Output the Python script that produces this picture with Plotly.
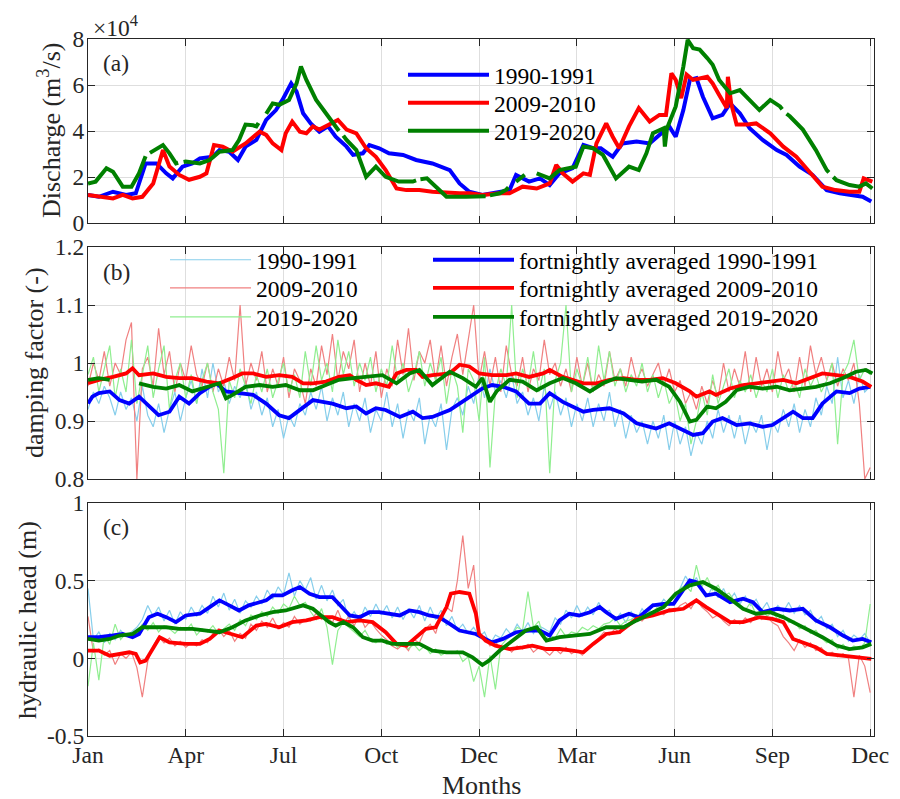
import plotly.graph_objects as go

# ---------------- data ----------------
MONTH_TICKS = [0, 90, 180, 270, 360, 450, 540, 630, 720]
MONTH_LABELS = ["Jan", "Apr", "Jul", "Oct", "Dec", "Mar", "Jun", "Sep", "Dec"]
SERIES_NAMES = ["1990-1991", "2009-2010", "2019-2020"]

# (a) discharge, units of 1e4 m3/s
Q_BLUE_DAY = [0,10,23,35,44,53,63,72,78,87,96,103,115,121,130,138,145,155,164,173,179,187,192,198,205,
              213,221,228,238,244,253,259,268,277,290,302,317,333,342,351,363,379,388,394,406,416,425,434,446,456,
              465,472,483,492,505,517,526,535,541,548,554,560,566,575,584,591,600,609,621,634,643,655,667,680,692,
              701,713,721]
Q_BLUE = [1.22,1.14,1.36,1.22,1.29,2.59,2.59,2.16,1.94,2.45,2.59,2.81,2.88,3.17,3.10,2.74,3.32,3.61,4.48,4.91,
          5.35,6.07,5.71,4.77,4.33,3.97,4.20,3.75,3.32,2.96,3.03,3.39,3.25,3.03,2.96,2.74,2.59,2.30,1.72,1.36,
          1.22,1.36,1.43,2.09,1.80,1.94,1.65,2.16,2.38,3.39,3.25,3.25,2.88,3.46,3.54,3.46,3.83,4.20,3.75,4.91,
          6.22,6.30,5.49,4.55,4.70,5.20,4.77,4.12,3.61,3.17,2.96,2.45,2.09,1.43,1.29,1.22,1.14,0.93]

Q_RED_DAY = [0,10,23,32,41,50,60,69,75,84,93,103,109,116,124,133,145,158,164,170,178,182,188,195,201,
             207,213,222,230,238,247,256,265,274,284,293,305,317,333,342,351,363,379,388,400,
             413,425,431,437,446,456,462,468,477,483,489,498,507,517,526,532,537,541,546,551,
             557,570,575,581,588,589,592,597,607,615,628,640,652,664,676,688,701,710,714,722]
Q_RED = [1.22,1.14,1.07,1.22,1.07,1.14,1.72,3.17,2.45,2.09,1.88,2.01,2.16,3.39,3.32,3.10,3.46,3.97,3.83,3.46,
         3.17,3.90,4.41,3.97,3.90,4.20,4.06,4.28,4.48,4.06,3.90,3.25,2.88,2.30,1.50,1.43,1.43,1.36,1.29,1.29,
         1.29,1.22,1.29,1.29,1.58,1.50,1.72,2.52,2.16,1.80,2.16,2.09,3.46,4.33,3.75,3.25,4.20,5.00,4.41,4.70,
         4.70,6.51,6.22,5.43,6.45,6.22,6.36,6.07,5.57,5.00,6.36,5.20,4.28,4.28,4.33,3.90,3.32,2.88,2.23,1.58,
         1.43,1.36,1.36,1.94,1.80]

# green record has short missing stretches (None)
Q_GREEN_DAY = [0,7,17,23,32,40,47,53,55,57,62,69,75,81,83,85,88,90,103,112,121,133,139,145,152,
               155,157,159,164,170,176,185,192,196,201,210,219,228,231,233,235,238,247,256,265,
               274,286,299,302,304,306,312,317,330,348,363,366,368,370,375,379,385,387,389,394,
               400,402,404,413,425,434,449,456,465,474,486,498,507,514,520,530,531,533,541,548,
               552,557,563,570,575,581,591,600,609,618,628,637,639,641,643,646,658,670,680,682,
               684,686,689,701,710,716,722]
Q_GREEN = [1.72,1.80,2.38,2.23,1.58,1.58,2.16,2.90,None,3.05,3.20,3.39,3.03,2.59,2.62,None,2.65,2.67,2.59,2.74,
           3.10,3.17,3.61,4.28,4.25,4.20,4.35,None,4.75,5.20,5.14,5.35,6.07,6.80,6.22,5.35,4.77,4.20,4.00,None,
           3.80,3.61,3.17,2.01,2.45,2.01,1.80,1.80,1.85,None,1.90,1.94,1.72,1.14,1.14,1.14,1.16,None,1.20,1.25,
           1.29,1.45,1.55,None,1.80,2.05,2.10,None,2.16,1.94,2.30,2.45,3.32,3.25,2.96,1.94,2.45,2.30,3.03,3.90,
           4.12,3.32,4.12,5.07,6.80,7.96,7.60,7.54,7.17,6.88,6.22,5.64,5.78,5.35,4.91,5.35,5.07,4.95,None,4.75,
           4.64,4.06,3.17,2.30,2.20,None,2.00,1.86,1.65,1.58,1.72,1.50]

# raw series sampled every 5 days (day 0 ... 720)
DAYS_5 = list(range(0, 721, 5))

DF_BLUE_RAW = [.92,.95,.93,.96,.94,.91,.95,.92,.94,.90, .96,.91,.89,.93,.88,.92,.95,.90,.94,.97,
               .93,.99,.94,1.0,.95,.97,.93,.96,.94,.97, .92,.95,.91,.94,.89,.92,.87,.91,.89,.93,
               .91,.95,.92,.96,.90,.94,.91,.95,.89,.93, .90,.94,.88,.92,.90,.95,.89,.93,.87,.92,
               .90,.94,.86,.91,.89,.93,.85,.92,.94,.91, .96,.93,.98,.94,.99,.95,.97,.94,.98,.93,
               .95,.91,.94,.90,.96,.92,.95,.91,.94,.89, .93,.90,.94,.89,.93,.90,.95,.89,.92,.87,
               .91,.88,.90,.86,.90,.87,.91,.85,.90,.86, .89,.84,.88,.86,.90,.87,.92,.88,.91,.87,
               .91,.86,.90,.88,.91,.85,.90,.88,.92,.89, .93,.88,.92,.89,.94,.91,.96,.93,1.01,.94,
               .97,.93,.98,.95,.96]
DF_RED_RAW = [.96,1.0,.97,1.02,.96,1.0,.98,1.04,1.07,.80, .99,1.01,.96,1.06,.98,1.02,.95,1.0,.97,1.03,
              .98,.96,1.0,.95,.99,.96,1.01,.97,1.10,.96, 1.0,.97,1.02,.95,.99,.96,1.01,.94,.99,.97,
              .93,.99,.96,1.03,.98,1.05,.97,1.02,.99,1.04, .95,1.0,.96,1.02,.94,.99,.96,1.04,.98,1.06,
              .97,1.02,1.0,1.04,.97,1.03,.96,1.01,1.05,.98, 1.04,1.10,.97,1.02,.96,1.01,.95,1.03,.98,.96,
              1.01,.95,.99,.97,1.04,.98,1.0,.96,.99,.95, 1.01,.96,1.0,.95,.98,.96,1.02,.97,.99,.96,
              1.01,.97,.99,.96,.98,1.0,.96,.99,.95,.97, .93,.95,.92,.96,.93,.97,.94,1.0,.95,.99,
              .96,1.02,.95,1.01,.96,.99,.95,1.02,.97,.99, .95,1.01,.96,1.03,.98,1.01,.97,1.0,.96,.99,
              .97,1.0,.93,.80,.82]
DF_GREEN_RAW = [.98,1.01,.95,.99,1.03,.94,.99,.95,1.04,.93, .98,1.03,.94,.99,1.03,.92,.97,1.0,.94,.98,
                .93,.97,1.0,.95,.92,.81,.97,.94,.99,.96, .93,.98,.95,.99,.94,.97,1.0,.95,.98,.94,
                1.02,.96,1.03,.97,1.0,.95,1.04,.98,1.02,.96, 1.0,.97,1.01,.95,.99,.96,1.03,.97,1.0,.95,
                .98,1.02,.96,1.0,.97,1.01,.93,.99,.96,.88, .99,.97,.90,1.01,.82,.95,.99,.96,1.10,.94,
                .99,.96,1.02,.95,.99,.81,.97,1.0,1.10,.95, .99,.96,1.01,.95,1.03,.97,1.02,.96,.99,.95,
                .98,.96,1.0,.95,.98,.94,.97,.93,.95,.90, .93,.86,.90,.95,.91,.98,.93,.96,.99,.94,
                .97,.95,.98,.94,.97,.95,.99,.94,.98,.95, .97,.94,.99,.96,.98,.95,.97,1.0,.86,.98,
                1.0,1.04,.97,.99,.98]

# (b) fortnightly averaged damping factor
DF_BLUE_AVG_DAY = [0,4,10,20,29,38,47,56,65,75,84,93,103,112,118,127,139,152,164,176,185,195,207,216,225,
                   238,247,256,265,274,287,299,308,317,333,342,351,363,372,382,394,406,416,425,437,
                   456,465,480,493,505,517,523,535,548,557,566,575,584,597,609,621,630,640,649,658,
                   667,676,689,701,710,720]
DF_BLUE_AVG = [.930,.942,.948,.951,.936,.930,.942,.925,.910,.916,.942,.930,.948,.959,.965,.951,.948,.945,.930,.910,
               .905,.919,.936,.933,.930,.922,.925,.913,.922,.919,.907,.916,.905,.907,.919,.930,.942,.956,.962,.959,
               .951,.930,.930,.948,.933,.916,.919,.922,.913,.896,.890,.887,.896,.884,.876,.879,.899,.905,.893,.896,
               .890,.893,.905,.916,.905,.905,.930,.951,.948,.956,.959]
DF_RED_AVG_DAY = [0,10,23,35,41,47,60,72,84,96,109,121,133,142,152,164,176,188,198,207,219,231,241,247,256,
                  265,277,284,293,302,308,317,333,342,351,360,372,385,394,406,419,425,437,456,468,
                  480,493,505,517,529,541,554,560,572,578,591,603,615,628,640,652,664,676,689,701,713,721]
DF_RED_AVG = [.965,.971,.976,.982,.991,.979,.982,.976,.974,.974,.968,.965,.974,.982,.982,.976,.979,.976,.965,.965,
              .968,.976,.979,.971,.962,.965,.959,.982,.988,.988,.976,.979,.982,.997,.994,.982,.979,.979,.982,.976,
              .982,.988,.976,.965,.965,.971,.974,.971,.971,.974,.965,.951,.942,.951,.945,.956,.962,.965,.968,.971,
              .965,.974,.982,.979,.976,.968,.959]
DF_GREEN_AVG_DAY = [0,10,20,30,47,60,72,84,96,109,121,127,133,145,158,170,182,195,207,219,231,244,256,271,284,
                    296,305,317,333,345,357,363,370,376,388,400,413,425,437,449,462,474,486,498,510,
                    523,535,545,554,560,570,578,587,597,609,621,634,646,658,670,683,695,707,716,722]
DF_GREEN_AVG = [.971,.974,.971,None,.965,.959,.956,.962,.951,.959,.965,.939,.945,.959,.962,.959,.962,.953,.953,.962,
                .971,.974,.976,.979,.965,.982,.988,.962,.985,.974,.959,.974,.933,.951,.971,.968,.953,.965,.974,.965,
                .951,.965,.974,.971,.968,.971,.959,.933,.899,.902,.925,.922,.933,.953,.959,.956,.959,.953,.956,.959,
                .965,.974,.985,.988,.982]

# (c) hydraulic head raw (every 5 days)
HH_BLUE_RAW = [.45,.12,.17,.10,.16,.12,.18,.14,.17,.20, .25,.34,.27,.33,.24,.31,.22,.30,.25,.33,
               .27,.34,.29,.40,.33,.42,.31,.38,.29,.37, .33,.40,.35,.44,.38,.46,.41,.55,.40,.50,
               .44,.52,.38,.47,.37,.44,.34,.38,.25,.30, .24,.33,.27,.35,.28,.34,.26,.33,.25,.32,
               .26,.34,.24,.33,.25,.31,.21,.27,.18,.22, .16,.20,.14,.17,.09,.15,.13,.19,.15,.22,
               .17,.23,.16,.21,.19,.17,.26,.22,.31,.26, .34,.27,.33,.28,.36,.30,.31,.24,.29,.23,
               .30,.25,.32,.27,.35,.33,.38,.34,.37,.45, .53,.47,.52,.44,.40,.46,.39,.45,.37,.42,
               .35,.40,.34,.38,.31,.36,.28,.34,.30,.36, .29,.34,.28,.31,.23,.27,.19,.22,.14,.18,
               .11,.15,.12,.16,.10]
HH_RED_RAW = [.27,.04,.06,.02,.05,-.04,.03,.00,.04,-.06, -.25,-.02,.08,.14,.10,.13,.08,.11,.07,.10,
              .08,.12,.10,.16,.19,.14,.18,.11,.16,.13, .22,.18,.24,.20,.26,.19,.23,.20,.27,.22,
              .25,.24,.29,.25,.27,.23,.31,.22,.27,.21, .28,.20,.24,.19,.15,.12,.08,.06,.09,.05,
              .12,.10,.18,.22,.16,.28,.33,.30,.50,.79, .45,.60,.15,.14,.08,.11,.05,.08,.04,.08,
              .06,.09,.04,.07,.05,.02,.06,.03,.07,.03, .05,.02,.07,.10,.13,.17,.15,.19,.16,.21,
              .23,.26,.24,.28,.27,.30,.28,.32,.30,.34, .36,.32,.38,.33,.30,.26,.28,.24,.21,.25,
              .22,.26,.23,.28,.25,.27,.23,.21,.14,.10, .05,.12,.07,.10,.05,.07,.02,.04,.01,.03,
              .00,-.25,.02,-.05,-.22]
HH_GREEN_RAW = [-.18,.10,-.14,.15,.09,.22,.12,.16,.14,.17, .22,.18,.23,.17,.21,.19,.16,.20,.18,.22,
                .15,.19,.17,.21,.16,.19,.22,.18,.25,.21, .28,.25,.30,.27,.33,.29,.35,.32,.40,.34,
                .36,.30,.25,.32,.20,-.04,.18,.23,.20,.17, .14,.18,.12,.10,.13,.09,.11,.07,.10,.06,
                .09,.05,.08,.03,.06,.02,.04,.03,.05,-.02, .01,-.15,-.05,-.25,.02,-.20,.08,.12,.15,.20,
                .18,.43,.20,.24,.12,.15,.13,.19,.14,.17, .16,.20,.18,.21,.19,.22,.23,.26,.21,.24,
                .25,.28,.26,.30,.29,.34,.33,.37,.40,.45, .47,.43,.60,.46,.52,.44,.47,.40,.42,.37,
                .34,.31,.36,.28,.32,.27,.30,.25,.28,.23, .24,.19,.21,.16,.18,.13,.10,.12,.06,.09,
                .05,.08,.06,.10,.35]

# (c) fortnightly averaged hydraulic head
HH_BLUE_AVG_DAY = [0,10,23,32,41,47,56,64,72,81,90,103,112,121,130,139,148,158,164,170,179,188,195,204,213,
                   225,231,241,250,259,268,277,287,296,305,314,323,333,342,357,372,382,394,406,416,
                   425,434,443,452,462,471,477,486,498,507,520,530,539,548,554,560,569,578,591,603,
                   612,621,634,646,658,670,683,695,704,713,721]
HH_BLUE_AVG = [.136,.136,.147,.157,.136,.157,.265,.287,.265,.233,.276,.287,.330,.373,.341,.308,.341,.362,.373,.405,
               .405,.438,.459,.416,.394,.394,.351,.276,.265,.297,.297,.287,.276,.308,.297,.276,.265,.222,.179,.157,
               .103,.125,.168,.179,.179,.147,.244,.287,.276,.297,.330,.297,.254,.287,.265,.341,.351,.351,.448,.502,
               .491,.405,.416,.362,.384,.362,.297,.319,.308,.319,.244,.200,.147,.114,.125,.103]
HH_RED_AVG_DAY = [0,10,20,29,38,44,48,53,60,66,75,90,103,112,121,133,142,155,164,176,188,201,213,225,238,
                  250,262,274,284,293,302,311,320,330,334,342,351,357,360,366,375,388,400,409,422,
                  434,446,456,465,477,489,505,520,535,548,560,569,581,591,603,618,630,640,649,658,
                  670,680,695,707,721]
HH_RED_AVG = [.050,.050,.017,.028,.039,.028,-.026,-.015,.071,.136,.103,.093,.093,.125,.179,.157,.136,.211,.222,.200,
              .233,.244,.265,.265,.233,.244,.233,.168,.093,.082,.136,.190,.200,.330,.416,.427,.416,.287,.157,.114,
              .082,.060,.071,.082,.060,.060,.050,.039,.093,.157,.168,.254,.276,.308,.319,.373,.330,.276,.233,.233,
              .265,.254,.233,.125,.103,.071,.028,.017,.006,-.004]
HH_GREEN_AVG_DAY = [0,10,20,29,41,50,60,72,84,96,109,121,133,145,158,170,182,192,198,207,213,222,228,235,244,
                    253,262,271,280,293,305,317,330,345,354,363,369,379,391,403,413,422,434,446,462,
                    477,493,505,517,530,541,554,566,578,591,603,615,628,640,652,664,676,689,701,713,721]
HH_GREEN_AVG = [.125,.114,.125,.147,.157,.200,.200,.200,.190,.190,.179,.168,.200,.244,.276,.297,.308,.330,.341,.319,
                .287,.233,.211,.233,.200,.136,.114,.114,.093,.093,.093,.050,.039,.039,.006,-.043,-.015,.050,.114,.179,
                .200,.114,.136,.147,.157,.200,.200,.244,.287,.330,.416,.470,.491,.448,.384,.319,.287,.297,.265,.222,
                .179,.136,.082,.060,.071,.093]

# ---------------- styling ----------------
FONT = "Liberation Serif"
TXT = "#262626"
FS = 23.5
THICK = ["#0000FF", "#FF0000", "#008000"]
THIN = ["#87CEEB", "#F08080", "#90EE90"]

W, H = 900, 799
L, R, T, B = 88, 26, 39, 63
PW, PH = W - L - R, H - T - B


def ypaper(py):
    return (H - B - py) / PH


def xpaper(px):
    return (px - L) / PW


fig = go.Figure()
legends = {}
leg_count = [0]


def new_legend(px, py):
    leg_count[0] += 1
    key = "legend" if leg_count[0] == 1 else "legend%d" % leg_count[0]
    legends[key] = dict(bgcolor="rgba(0,0,0,0)", borderwidth=0,
                        font=dict(family=FONT, size=FS, color="#000000"),
                        xanchor="left", yanchor="middle", itemwidth=81,
                        x=xpaper(px), y=ypaper(py))
    return key


ROWS_A = [75, 103, 131]
ROWS_B = [260, 288, 317]

# panel (a)
for i, (name, xd, yd, col) in enumerate(zip(SERIES_NAMES, [Q_BLUE_DAY, Q_RED_DAY, Q_GREEN_DAY],
                                            [Q_BLUE, Q_RED, Q_GREEN], THICK)):
    assert len(xd) == len(yd)
    fig.add_trace(go.Scatter(x=xd, y=yd, mode="lines", name=name, line=dict(color=col, width=4),
                             xaxis="x", yaxis="y", legend=new_legend(403, ROWS_A[i]), connectgaps=False))

# panel (b) raw
for i, (name, yd, col) in enumerate(zip(SERIES_NAMES, [DF_BLUE_RAW, DF_RED_RAW, DF_GREEN_RAW], THIN)):
    assert len(yd) == len(DAYS_5)
    fig.add_trace(go.Scatter(x=DAYS_5, y=yd, mode="lines", name=name, line=dict(color=col, width=1.2),
                             xaxis="x2", yaxis="y2", legend=new_legend(165, ROWS_B[i])))
# panel (b) averaged
for i, (name, xd, yd, col) in enumerate(zip(SERIES_NAMES, [DF_BLUE_AVG_DAY, DF_RED_AVG_DAY, DF_GREEN_AVG_DAY],
                                            [DF_BLUE_AVG, DF_RED_AVG, DF_GREEN_AVG], THICK)):
    assert len(xd) == len(yd)
    fig.add_trace(go.Scatter(x=xd, y=yd, mode="lines", name="fortnightly averaged " + name,
                             line=dict(color=col, width=3.8), xaxis="x2", yaxis="y2",
                             legend=new_legend(428, ROWS_B[i]), connectgaps=False))

# panel (c)
for name, yd, col in zip(SERIES_NAMES, [HH_BLUE_RAW, HH_RED_RAW, HH_GREEN_RAW], THIN):
    assert len(yd) == len(DAYS_5)
    fig.add_trace(go.Scatter(x=DAYS_5, y=yd, mode="lines", name=name, line=dict(color=col, width=1.2),
                             xaxis="x3", yaxis="y3", showlegend=False))
for name, xd, yd, col in zip(SERIES_NAMES, [HH_BLUE_AVG_DAY, HH_RED_AVG_DAY, HH_GREEN_AVG_DAY],
                             [HH_BLUE_AVG, HH_RED_AVG, HH_GREEN_AVG], THICK):
    assert len(xd) == len(yd)
    fig.add_trace(go.Scatter(x=xd, y=yd, mode="lines", name=name, line=dict(color=col, width=3.8),
                             xaxis="x3", yaxis="y3", showlegend=False))

tickfont = dict(family=FONT, size=FS, color=TXT)
common_x = dict(range=[0, 723.5], tickmode="array", tickvals=MONTH_TICKS, ticktext=MONTH_LABELS,
                ticks="inside", ticklen=7, tickcolor=TXT, showline=True, linecolor=TXT, linewidth=1.3,
                mirror="ticks", showgrid=True, gridcolor="#dedede", gridwidth=1, zeroline=False,
                tickfont=tickfont, domain=[0, 1], ticklabelstandoff=-2)
common_y = dict(ticks="inside", ticklen=7, tickcolor=TXT, showline=True, linecolor=TXT, linewidth=1.3,
                mirror="ticks", showgrid=True, gridcolor="#dedede", gridwidth=1, zeroline=False,
                tickfont=tickfont, tickmode="array", ticklabelstandoff=-2)

dom_a = [ypaper(223), 1.0]
dom_b = [ypaper(479), ypaper(247)]
dom_c = [0.0, ypaper(503)]

fig.update_layout(
    width=W, height=H, margin=dict(l=L, r=R, t=T, b=B), plot_bgcolor="white", paper_bgcolor="white",
    font=dict(family=FONT, size=FS, color=TXT),
    xaxis=dict(common_x, anchor="y", showticklabels=False),
    xaxis2=dict(common_x, anchor="y2", showticklabels=False),
    xaxis3=dict(common_x, anchor="y3", showticklabels=True),
    yaxis=dict(common_y, domain=dom_a, anchor="x", range=[0, 8], tickvals=[0, 2, 4, 6, 8],
               ticktext=["0", "2", "4", "6", "8"]),
    yaxis2=dict(common_y, domain=dom_b, anchor="x2", range=[0.8, 1.2], tickvals=[0.8, 0.9, 1.0, 1.1, 1.2],
                ticktext=["0.8", "0.9", "1", "1.1", "1.2"]),
    yaxis3=dict(common_y, domain=dom_c, anchor="x3", range=[-0.5, 1], tickvals=[-0.5, 0, 0.5, 1],
                ticktext=["-0.5", "0", "0.5", "1"]),
    showlegend=True,
    **legends,
)

ann = []


def add_text(text, px, py, size=FS, angle=0, xanchor="center", yanchor="middle"):
    ann.append(dict(text=text, x=xpaper(px), y=ypaper(py), xref="paper", yref="paper", showarrow=False,
                    textangle=angle, xanchor=xanchor, yanchor=yanchor,
                    font=dict(family=FONT, size=size, color=TXT)))


add_text("Discharge (m<sup>3</sup>/s)", 50, 131, size=26, angle=-90)
add_text("damping factor (-)", 34, 363, size=26, angle=-90)
add_text("hydraulic head (m)", 27, 620, size=26, angle=-90)
add_text("Months", 481, 785, size=26)
add_text("×10<sup>4</sup>", 91, 26, xanchor="left")
add_text("(a)", 101, 63, xanchor="left")
add_text("(b)", 101, 272, xanchor="left")
add_text("(c)", 101, 527, xanchor="left")
fig.update_layout(annotations=ann)

fig.write_html("out.html", config={"displayModeBar": False},
               post_script="document.body.style.margin='0';document.body.style.overflow='hidden';")
